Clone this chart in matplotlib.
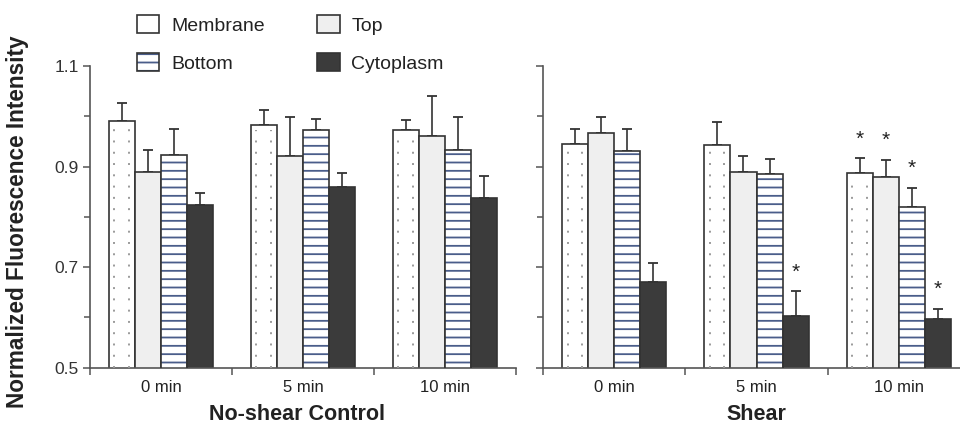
import numpy as np
import matplotlib
matplotlib.use("Agg")
import matplotlib.pyplot as plt
from matplotlib.patches import Patch
from matplotlib.ticker import FixedLocator, NullFormatter

plt.rcParams["font.family"] = ["Liberation Sans", "DejaVu Sans"]
plt.rcParams["hatch.linewidth"] = 1.3

# ── data ──────────────────────────────────────────────────────────────────────
groups = ["0 min", "5 min", "10 min"]
series = ["Membrane", "Top", "Bottom", "Cytoplasm"]

# rows = series, columns = groups
ctrl_mean = [[0.990, 0.982, 0.972],
             [0.890, 0.920, 0.961],
             [0.923, 0.973, 0.933],
             [0.824, 0.859, 0.837]]
ctrl_err = [[0.037, 0.031, 0.020],
            [0.042, 0.078, 0.080],
            [0.051, 0.021, 0.065],
            [0.023, 0.028, 0.044]]

shear_mean = [[0.945, 0.943, 0.887],
              [0.967, 0.890, 0.880],
              [0.930, 0.885, 0.820],
              [0.671, 0.603, 0.597]]
shear_err = [[0.029, 0.045, 0.030],
             [0.031, 0.030, 0.032],
             [0.044, 0.030, 0.037],
             [0.037, 0.050, 0.019]]

# significance stars in the shear panel: (group, series, y)
shear_stars = [(1, 3, 0.690), (2, 0, 0.955), (2, 1, 0.952), (2, 2, 0.896), (2, 3, 0.656)]

yticks_major = [0.5, 0.7, 0.9, 1.1]
yticks_minor = [0.6, 0.8, 1.0]

# ── style ─────────────────────────────────────────────────────────────────────
edge = "#333333"
axc = "#555555"
blue = "#4a5d8a"
dotc = "#9a9a9a"
faces = ["white", "#efefef", "white", "#3b3b3b"]
bar_w = 0.183
ymin, ymax = 0.5, 1.1


def draw_panel(ax, means, errs):
    x = np.arange(len(groups))
    for i, name in enumerate(series):
        pos = x + (i - 1.5) * bar_w
        m = np.array(means[i])
        if name == "Bottom":
            ax.bar(pos, m, bar_w, color="white", edgecolor=blue, lw=0, hatch="--", zorder=2)
            ax.bar(pos, m, bar_w, fill=False, edgecolor=edge, lw=1.2, zorder=3)
        else:
            ax.bar(pos, m, bar_w, color=faces[i], edgecolor=edge, lw=1.2, zorder=2)
        if name == "Membrane":
            for dx in (-0.29, 0.26):
                ax.vlines(pos + dx * bar_w, ymin, m - 0.01, colors=dotc,
                          linestyles=(0, (1.0, 4.8)), lw=1.4, zorder=3)
        ax.errorbar(pos, m, yerr=[np.zeros(len(m)), errs[i]], fmt="none",
                    ecolor=edge, elinewidth=1.2, capsize=3.6, capthick=1.3, zorder=1)

    ax.set_xlim(-0.5, len(groups) - 0.5)
    ax.set_ylim(ymin, ymax)
    ax.spines[["top", "right"]].set_visible(False)
    for s in ("left", "bottom"):
        ax.spines[s].set_color(axc)
        ax.spines[s].set_linewidth(1.2)

    ax.set_xticks(x)
    ax.set_xticklabels(groups, fontsize=12, color="#222222")
    ax.xaxis.set_minor_locator(FixedLocator(np.arange(len(groups) + 1) - 0.5))
    ax.tick_params(axis="x", which="major", length=0, pad=9)
    ax.tick_params(axis="x", which="minor", length=5, width=1.1, color=axc)

    ax.set_yticks(yticks_major)
    ax.yaxis.set_minor_locator(FixedLocator(yticks_minor))
    ax.tick_params(axis="y", which="major", length=5, width=1.1, color=axc,
                   labelsize=12.5, labelcolor="#333333", pad=3)
    ax.tick_params(axis="y", which="minor", length=4, width=1.1, color=axc)


fig = plt.figure(figsize=(9.6, 4.34), dpi=100)
ax1 = fig.add_axes([90 / 960, 1 - 367.5 / 434, 426 / 960, 301.5 / 434])
ax2 = fig.add_axes([543 / 960, 1 - 367.5 / 434, 427 / 960, 301.5 / 434])

draw_panel(ax1, ctrl_mean, ctrl_err)
draw_panel(ax2, shear_mean, shear_err)
ax1.set_yticklabels(["0.5", "0.7", "0.9", "1.1"])
ax2.yaxis.set_major_formatter(NullFormatter())

for g, s, y in shear_stars:
    ax2.text(g + (s - 1.5) * bar_w, y, "*", ha="center", va="center",
             fontsize=15, color="#222222")

ax1.set_ylabel("Normalized Fluorescence Intensity", fontsize=16.3,
               fontweight="bold", color="#222222")
ax1.yaxis.set_label_coords(-0.143, 0.483)
ax1.set_xlabel("No-shear Control", fontsize=15.5, fontweight="bold", color="#222222")
ax2.set_xlabel("Shear", fontsize=15.5, fontweight="bold", color="#222222")
ax1.xaxis.set_label_coords(0.486, -0.122)
ax2.xaxis.set_label_coords(0.5, -0.122)

# legend
h_mem = Patch(facecolor="white", edgecolor=edge, lw=1.2)
h_top = Patch(facecolor=faces[1], edgecolor=edge, lw=1.2)
h_bot = (Patch(facecolor="white", edgecolor=blue, lw=0, hatch="--"),
         Patch(fill=False, edgecolor=edge, lw=1.2))
h_cyt = Patch(facecolor=faces[3], edgecolor=edge, lw=1.2)
fig.legend([h_mem, h_bot, h_top, h_cyt], ["Membrane", "Bottom", "Top", "Cytoplasm"],
           ncol=2, frameon=False, loc="upper left",
           bbox_to_anchor=(137 / 960, 1 - 15 / 434), fontsize=14,
           handlelength=1.15, handleheight=1.05, handletextpad=0.6,
           columnspacing=2.7, labelspacing=0.95, borderpad=0, borderaxespad=0,
           labelcolor="#222222")

fig.savefig("out.png", dpi=100)
